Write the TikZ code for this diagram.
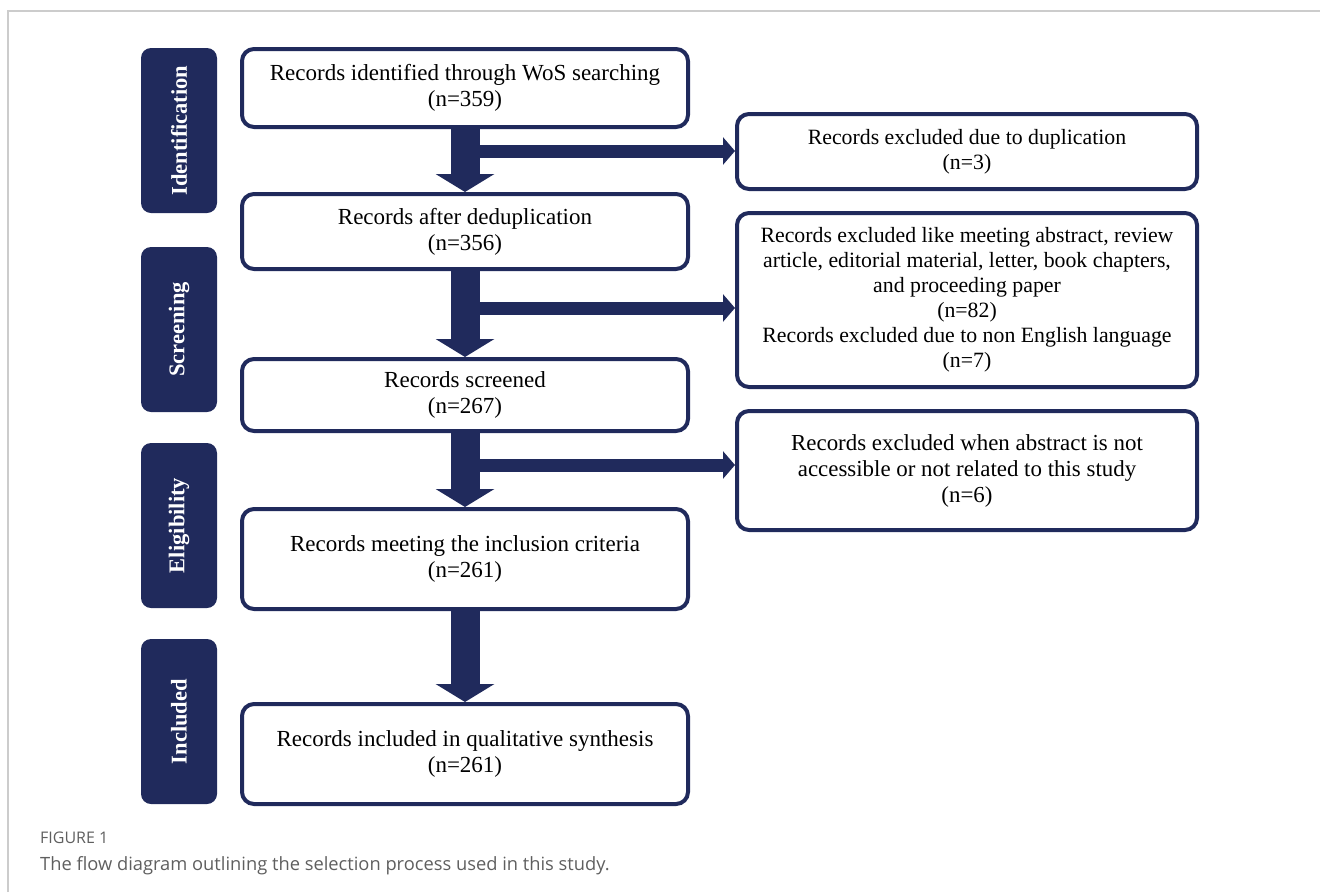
\documentclass[tikz,border=0pt]{standalone}
\usepackage{fontspec}
\setmainfont{Liberation Serif}
\newfontfamily\capfont{Open Sans}
\usetikzlibrary{positioning,arrows.meta,calc}
\definecolor{navy}{RGB}{32,42,92}
\definecolor{frame}{RGB}{204,204,204}
\definecolor{capgray}{RGB}{95,95,95}

\begin{document}
\begin{tikzpicture}[
  x=1pt, y=-1pt,
  stage/.style={fill=navy, rounded corners=10pt, minimum width=165pt, minimum height=76pt,
                inner sep=0pt, text=white, font=\fontsize{22.5}{26}\selectfont\bfseries, rotate=90},
  rec/.style={draw=navy, line width=4pt, fill=white, rounded corners=12pt, inner sep=2pt,
              minimum width=446pt, align=center, font=\fontsize{23}{26}\selectfont},
  excl/.style={rec, minimum width=460pt, font=\fontsize{21.8}{25}\selectfont},
  down/.style={navy, line width=29pt, -{Triangle[width=58pt,length=18pt]}},
  side/.style={navy, line width=13pt, -{Triangle[width=27pt,length=12pt]}},
]
\useasboundingbox (0,0) rectangle (1320,892);
\draw[frame, line width=1.5pt] (8,892) -- (8,11) -- (1320,11);

% stages
\node[stage] (sid)  at (179,130.5) {Identification};
\node[stage] (sscr) at (179,329.5) {Screening};
\node[stage] (selg) at (179,525.5) {Eligibility};
\node[stage] (sinc) at (179,721.5) {Included};

% main column
\node[rec, minimum height=78pt]  (ident) at (465,88)    {Records identified through WoS searching\\(n=359)};
\node[rec, minimum height=75pt]  (dedup) at (465,231.5) {Records after deduplication\\(n=356)};
\node[rec, minimum height=72pt]  (scrd)  at (465,395)   {Records screened\\(n=267)};
\node[rec, minimum height=100pt] (elig)  at (465,559)   {Records meeting the inclusion criteria\\(n=261)};
\node[rec, minimum height=100pt] (incl)  at (465,754)   {Records included in qualitative synthesis\\(n=261)};

% exclusions
\node[excl, minimum height=75pt]  (xdup) at (967,151.5) {Records excluded due to duplication\\(n=3)};
\node[excl, minimum height=174pt] (xtyp) at (967,300)
  {Records excluded like meeting abstract, review\\article, editorial material, letter, book chapters,\\and proceeding paper\\(n=82)\\Records excluded due to non English language\\(n=7)};
\node[excl, minimum height=119pt, font=\fontsize{22.9}{26}\selectfont] (xabs) at (967,470.5)
  {Records excluded when abstract is not\\accessible or not related to this study\\(n=6)};

\coordinate (j1) at (464,151);
\coordinate (j2) at (464,308);
\coordinate (j3) at (464,465);

\draw[side] (j1) -- (j1 -| xdup.west);
\draw[side] (j2) -- (j2 -| xtyp.west);
\draw[side] (j3) -- (j3 -| xabs.west);

\draw[down] (ident.south) -- (dedup.north);
\draw[down] (dedup.south) -- (scrd.north);
\draw[down] (scrd.south)  -- (elig.north);
\draw[down] (elig.south)  -- (incl.north);

% caption
\node[anchor=base west, inner sep=0pt, text=capgray, font=\capfont\fontsize{16}{19}\selectfont] (fig) at (40,843) {FIGURE 1};
\node[anchor=base west, inner sep=0pt, text=capgray, font=\capfont\fontsize{18.3}{21}\selectfont] (cap) at (40,870)
  {The flow diagram outlining the selection process used in this study.};
\end{tikzpicture}
\end{document}
